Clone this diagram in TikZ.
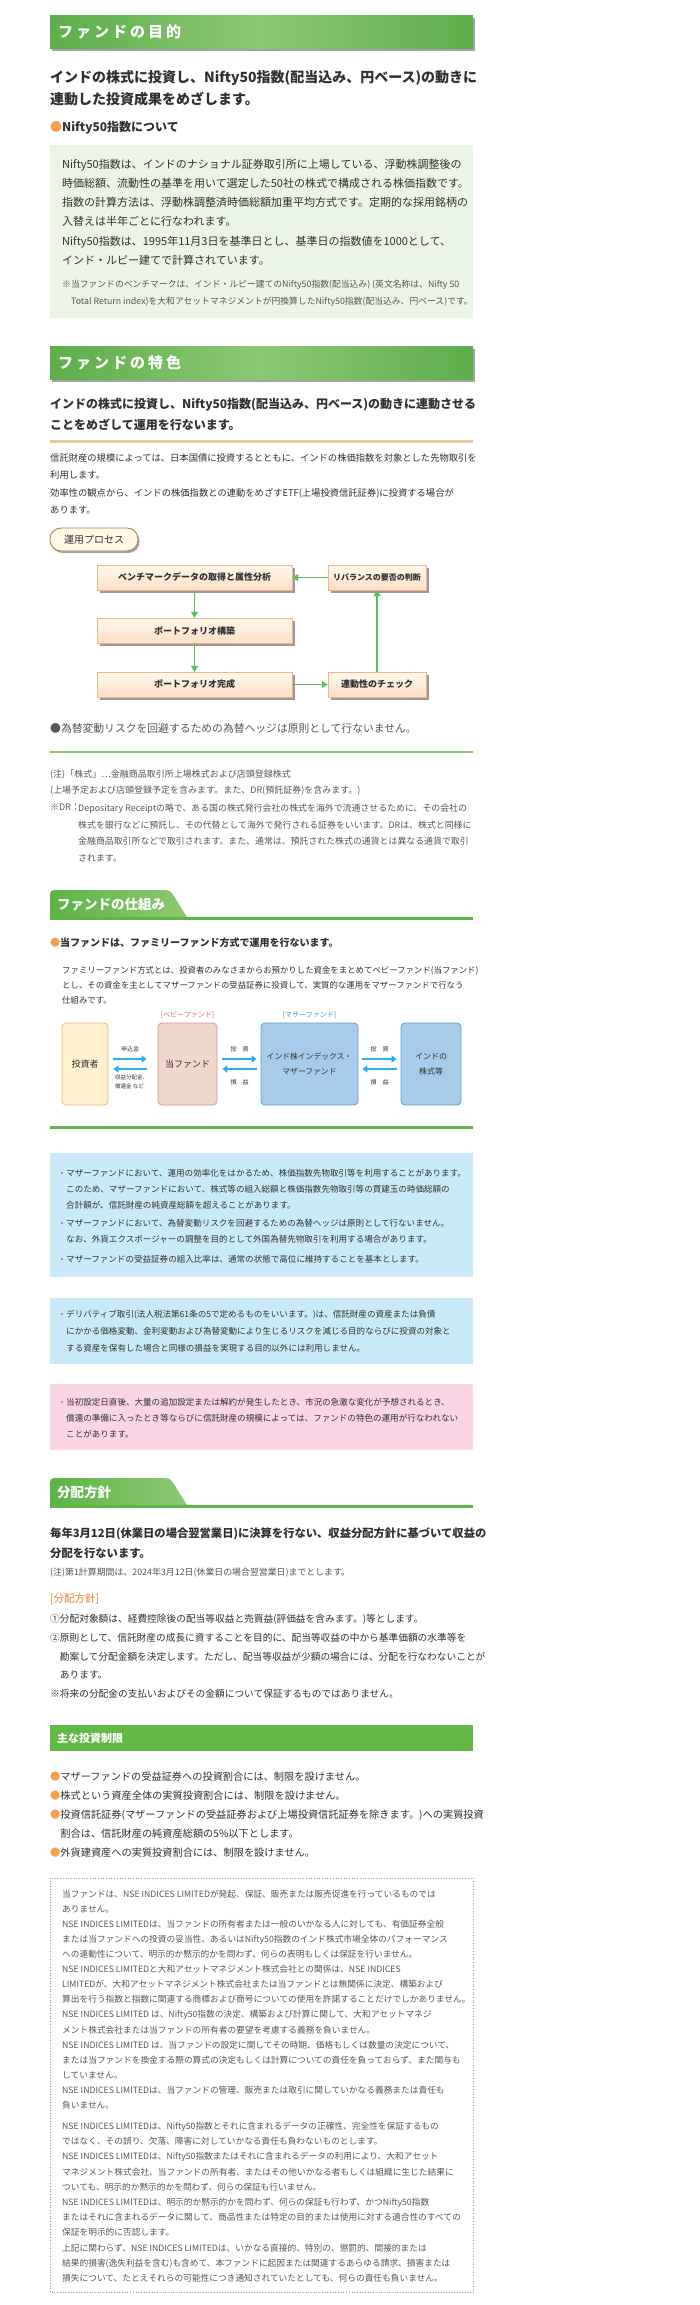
\documentclass[tikz,border=0pt]{standalone}
\usepackage{fontspec}
\setmainfont{Noto Sans CJK JP}
\newfontfamily\spacedjp{Noto Sans CJK JP}[LetterSpace=20]
\usetikzlibrary{arrows.meta,shadows}

\definecolor{bargreen}{HTML}{5DAE4B}
\definecolor{barlight}{HTML}{8DC873}
\definecolor{boxgreen}{HTML}{EBF5E5}
\definecolor{inkdark}{HTML}{303030}
\definecolor{inkgrey}{HTML}{555555}
\definecolor{tanline}{HTML}{E7C89B}
\definecolor{pillline}{HTML}{A2844F}
\definecolor{pillfill}{HTML}{FFF8E4}
\definecolor{flowline}{HTML}{F5B48C}
\definecolor{flowtop}{HTML}{FFF8EE}
\definecolor{flowbot}{HTML}{FCDFC2}
\definecolor{flowarrow}{HTML}{5CBD5C}
\definecolor{dotorange}{HTML}{F6A04B}
\definecolor{tabgreen}{HTML}{5DB447}
\definecolor{skyarrow}{HTML}{22B3EA}
\definecolor{invfill}{HTML}{FFF1CF}
\definecolor{invline}{HTML}{F5B56E}
\definecolor{babyfill}{HTML}{F1D6CC}
\definecolor{babyline}{HTML}{D9978A}
\definecolor{babytext}{HTML}{D4735E}
\definecolor{motherfill}{HTML}{A8CBEB}
\definecolor{motherline}{HTML}{5DA0D9}
\definecolor{mothertext}{HTML}{3C9BDA}
\definecolor{paleblue}{HTML}{CBEAF9}
\definecolor{palepink}{HTML}{FAD5E5}
\definecolor{pinkdot}{HTML}{E4607F}
\definecolor{bluedot}{HTML}{2F9FDC}
\definecolor{policyorange}{HTML}{EE7B32}
\definecolor{limitgreen}{HTML}{63B946}
\definecolor{dotline}{HTML}{9A9A9A}

\tikzset{
  every node/.style={inner sep=0pt},
  bodytext/.style={anchor=north west, align=left, text=inkdark},
  oneline/.style={anchor=west, text=inkdark},
  barshade/.style={left color=bargreen, right color=bargreen, middle color=barlight,
    drop shadow={shadow xshift=2pt, shadow yshift=-2.5pt, fill=black!45, opacity=0.8}},
  bartitle/.style={anchor=west, text=white, font=\spacedjp\bfseries\fontsize{15}{15}\selectfont},
  tabshade/.style={left color=tabgreen, right color=barlight},
  tabtitle/.style={anchor=west, text=white, font=\bfseries\fontsize{13.5}{13.5}\selectfont},
  flowbox/.style={draw=flowline, top color=flowtop, bottom color=flowbot, minimum height=25pt,
    text=inkdark, font=\bfseries\fontsize{9}{9}\selectfont,
    drop shadow={shadow xshift=3pt, shadow yshift=-3pt, fill=black!40, opacity=1}},
  flowto/.style={draw=flowarrow, line width=1.2pt, -{Triangle[length=6pt,width=7pt]}, fill=flowarrow},
  fundbox/.style={rounded corners=4pt, line width=0.8pt, minimum height=82pt, align=center, text=inkdark},
  moneyto/.style={draw=skyarrow, line width=1.8pt, -{Triangle[length=5pt,width=7pt]}},
  moneylbl/.style={text=inkdark, font=\fontsize{6}{6}\selectfont},
  smallbody/.style={bodytext, font=\fontsize{8.55}{15.8}\selectfont}
}

\begin{document}
\begin{tikzpicture}[x=1pt,y=-1pt]
\useasboundingbox (0,0) rectangle (700,2305);
\fill[white] (0,0) rectangle (700,2305);

\path[barshade] (50,15) rectangle (473,48);
\node[bartitle] (goaltitle) at (58,31.5) {ファンドの目的};
\node[bodytext, font=\bfseries\fontsize{14}{22}\selectfont] (goalhead) at (50,70.4) {インドの株式に投資し、Nifty50指数(配当込み、円ベース)の動きに\\連動した投資成果をめざします。};
\node[oneline, font=\bfseries\fontsize{12}{12}\selectfont] (niftyhead) at (50,128) {{\color{dotorange}●}Nifty50指数について};
\fill[boxgreen] (50,145) rectangle (473,318);
\node[bodytext, font=\fontsize{11}{19.2}\selectfont] (niftybody) at (62,158.8) {Nifty50指数は、インドのナショナル証券取引所に上場している、浮動株調整後の\\時価総額、流動性の基準を用いて選定した50社の株式で構成される株価指数です。\\指数の計算方法は、浮動株調整済時価総額加重平均方式です。定期的な採用銘柄の\\入替えは半年ごとに行なわれます。\\Nifty50指数は、1995年11月3日を基準日とし、基準日の指数値を1000として、\\インド・ルピー建てで計算されています。};
\node[bodytext, text=inkgrey, font=\fontsize{8.8}{17}\selectfont] (niftynote) at (62,279.9) {※当ファンドのベンチマークは、インド・ルピー建てのNifty50指数(配当込み) (英文名称は、Nifty 50\\\hspace*{9pt}Total Return index)を大和アセットマネジメントが円換算したNifty50指数(配当込み、円ベース)です。};

\path[barshade] (50,346) rectangle (473,379);
\node[bartitle] (featuretitle) at (58,362.5) {ファンドの特色};
\node[bodytext, font=\bfseries\fontsize{12}{21}\selectfont] (featurehead) at (50,398.4) {インドの株式に投資し、Nifty50指数(配当込み、円ベース)の動きに連動させる\\ことをめざして運用を行ないます。};
\draw[tanline, line width=3pt] (50,441) -- (473,441);
\node[bodytext, font=\fontsize{9.3}{17.3}\selectfont] (featurebody) at (50,453.6) {信託財産の規模によっては、日本国債に投資するとともに、インドの株価指数を対象とした先物取引を\\利用します。\\効率性の観点から、インドの株価指数との連動をめざすETF(上場投資信託証券)に投資する場合が\\あります。};
\node[draw=pillline, line width=0.9pt, fill=pillfill, rounded corners=11pt, minimum width=88pt, minimum height=23pt, text=inkdark, font=\fontsize{10}{10}\selectfont, drop shadow={shadow xshift=1.5pt, shadow yshift=-2pt, fill=black!35, opacity=1}] (proc) at (94,539.5) {運用プロセス};

\node[flowbox, minimum width=195pt] (bench) at (194.5,577.5) {ベンチマークデータの取得と属性分析};
\node[flowbox, minimum width=98pt, font=\bfseries\fontsize{8}{8}\selectfont] (rebal) at (377,577.5) {リバランスの要否の判断};
\node[flowbox, minimum width=195pt] (build) at (194.5,630.5) {ポートフォリオ構築};
\node[flowbox, minimum width=195pt] (done) at (194.5,684.5) {ポートフォリオ完成};
\node[flowbox, minimum width=98pt] (check) at (377,684.5) {連動性のチェック};
\draw[flowto] (bench) -- (build);
\draw[flowto] (build) -- (done);
\draw[flowto] (done) -- (check);
\draw[flowto] (check) -- (rebal);
\draw[flowto] (rebal) -- (bench);

\node[oneline, text=inkgrey, font=\fontsize{10.8}{10.8}\selectfont] (hedge) at (50,728) {●為替変動リスクを回避するための為替ヘッジは原則として行ないません。};
\draw[barlight, line width=1.5pt] (50,752) -- (473,752);
\node[bodytext, text=inkgrey, font=\fontsize{9}{16}\selectfont] (stocknote) at (50,769.8) {(注)「株式」…金融商品取引所上場株式および店頭登録株式\\(上場予定および店頭登録予定を含みます。また、DR(預託証券)を含みます。)};
\node[bodytext, text=inkgrey, font=\fontsize{9}{16.5}\selectfont] (drtag) at (50,803.8) {※DR：};
\node[bodytext, text=inkgrey, font=\fontsize{8.9}{16.5}\selectfont] (drnote) at (78,803.8) {Depositary Receiptの略で、ある国の株式発行会社の株式を海外で流通させるために、その会社の\\株式を銀行などに預託し、その代替として海外で発行される証券をいいます。DRは、株式と同様に\\金融商品取引所などで取引されます。また、通常は、預託された株式の通貨とは異なる通貨で取引\\されます。};

\path[tabshade] (50,917) [rounded corners=4pt] -- (50,890) -- (170,890) [sharp corners] -- (187,917) -- cycle;
\draw[tabgreen, line width=3pt] (50,918.5) -- (473,918.5);
\node[tabtitle] (schemetitle) at (57,904) {ファンドの仕組み};
\node[oneline, font=\bfseries\fontsize{10}{10}\selectfont] (schemehead) at (50,943) {{\color{dotorange}●}当ファンドは、ファミリーファンド方式で運用を行ないます。};
\node[bodytext, font=\fontsize{8.4}{15}\selectfont] (schemebody) at (62,966) {ファミリーファンド方式とは、投資者のみなさまからお預かりした資金をまとめてベビーファンド(当ファンド)\\とし、その資金を主としてマザーファンドの受益証券に投資して、実質的な運用をマザーファンドで行なう\\仕組みです。};

\node[text=babytext, font=\fontsize{7}{7}\selectfont] (babytag) at (187.5,1015) {[ベビーファンド]};
\node[text=mothertext, font=\fontsize{7}{7}\selectfont] (mothertag) at (309.5,1015) {[マザーファンド]};
\node[fundbox, draw=invline, fill=invfill, minimum width=46pt, font=\fontsize{9}{9}\selectfont] (inv) at (85,1064) {投資者};
\node[fundbox, draw=babyline, fill=babyfill, minimum width=59pt, font=\fontsize{9}{9}\selectfont] (baby) at (187.5,1064) {当ファンド};
\node[fundbox, draw=motherline, fill=motherfill, minimum width=97pt, font=\fontsize{7.8}{15}\selectfont] (mother) at (309.5,1064) {インド株インデックス・\\マザーファンド};
\node[fundbox, draw=motherline, fill=motherfill, minimum width=60pt, font=\fontsize{8}{15}\selectfont] (stock) at (431,1064) {インドの\\株式等};
\draw[moneyto] ([shift={(5,-5)}]inv.east) -- ([shift={(-11,-5)}]baby.west);
\draw[moneyto] ([shift={(-11,5)}]baby.west) -- ([shift={(5,5)}]inv.east);
\draw[moneyto] ([shift={(5,-5)}]baby.east) -- ([shift={(-4,-5)}]mother.west);
\draw[moneyto] ([shift={(-4,5)}]mother.west) -- ([shift={(5,5)}]baby.east);
\draw[moneyto] ([shift={(4,-5)}]mother.east) -- ([shift={(-4,-5)}]stock.west);
\draw[moneyto] ([shift={(-4,5)}]stock.west) -- ([shift={(4,5)}]mother.east);
\node[moneylbl] (paylbl) at (130,1049) {申込金};
\node[moneylbl, anchor=north west, align=left, font=\fontsize{5.5}{9}\selectfont] (backlbl) at (115,1074.4) {収益分配金、\\償還金 など};
\node[moneylbl] (investlbla) at (239.5,1049) {投　資};
\node[moneylbl] (gainlbla) at (239.5,1082) {損　益};
\node[moneylbl] (investlblb) at (379.5,1049) {投　資};
\node[moneylbl] (gainlblb) at (379.5,1082) {損　益};
\draw[tabgreen, line width=3pt] (50,1127) -- (473,1127);

\fill[paleblue] (50,1153) rectangle (473,1277);
\fill[bluedot] (62,1173) circle[radius=1.1pt];
\fill[bluedot] (62,1223) circle[radius=1.1pt];
\fill[bluedot] (62,1259) circle[radius=1.1pt];
\node[smallbody] (motherusea) at (66,1169) {マザーファンドにおいて、運用の効率化をはかるため、株価指数先物取引等を利用することがあります。\\このため、マザーファンドにおいて、株式等の組入総額と株価指数先物取引等の買建玉の時価総額の\\合計額が、信託財産の純資産総額を超えることがあります。};
\node[smallbody] (motheruseb) at (66,1219) {マザーファンドにおいて、為替変動リスクを回避するための為替ヘッジは原則として行ないません。\\なお、外貨エクスポージャーの調整を目的として外国為替先物取引を利用する場合があります。};
\node[smallbody] (motherusec) at (66,1255) {マザーファンドの受益証券の組入比率は、通常の状態で高位に維持することを基本とします。};

\fill[paleblue] (50,1298) rectangle (473,1364);
\fill[bluedot] (62,1314) circle[radius=1.1pt];
\node[smallbody, font=\fontsize{8.55}{17}\selectfont] (derivnote) at (66,1310) {デリバティブ取引(法人税法第61条の5で定めるものをいいます。)は、信託財産の資産または負債\\にかかる価格変動、金利変動および為替変動により生じるリスクを減じる目的ならびに投資の対象と\\する資産を保有した場合と同様の損益を実現する目的以外には利用しません。};

\fill[palepink] (50,1384) rectangle (473,1450);
\fill[pinkdot] (62,1402) circle[radius=1.1pt];
\node[smallbody, font=\fontsize{8.55}{16}\selectfont] (riskynote) at (66,1398) {当初設定日直後、大量の追加設定または解約が発生したとき、市況の急激な変化が予想されるとき、\\償還の準備に入ったとき等ならびに信託財産の規模によっては、ファンドの特色の運用が行なわれない\\ことがあります。};

\path[tabshade] (50,1505) [rounded corners=4pt] -- (50,1478) -- (170,1478) [sharp corners] -- (187,1505) -- cycle;
\draw[tabgreen, line width=3pt] (50,1506.5) -- (473,1506.5);
\node[tabtitle] (policytitle) at (57,1492) {分配方針};
\node[bodytext, font=\bfseries\fontsize{11.3}{20}\selectfont] (policyhead) at (50,1527.7) {毎年3月12日(休業日の場合翌営業日)に決算を行ない、収益分配方針に基づいて収益の\\分配を行ないます。};
\node[oneline, text=inkgrey, font=\fontsize{8.9}{8.9}\selectfont] (periodnote) at (50,1573) {(注)第1計算期間は、2024年3月12日(休業日の場合翌営業日)までとします。};
\node[oneline, text=policyorange, font=\fontsize{10.5}{10.5}\selectfont] (policytag) at (50,1599) {[分配方針]};
\node[bodytext, font=\fontsize{9.7}{18.75}\selectfont] (policybody) at (50,1614.2) {①分配対象額は、経費控除後の配当等収益と売買益(評価益を含みます。)等とします。\\②原則として、信託財産の成長に資することを目的に、配当等収益の中から基準価額の水準等を\\\hspace*{1em}勘案して分配金額を決定します。ただし、配当等収益が少額の場合には、分配を行なわないことが\\\hspace*{1em}あります。\\※将来の分配金の支払いおよびその金額について保証するものではありません。};

\fill[limitgreen] (50,1725) rectangle (473,1751);
\node[oneline, text=white, font=\bfseries\fontsize{11}{11}\selectfont] (limittitle) at (57,1738) {主な投資制限};
\node[bodytext, font=\fontsize{10.2}{19}\selectfont] (limitbody) at (50,1771.2) {{\color{dotorange}●}マザーファンドの受益証券への投資割合には、制限を設けません。\\{\color{dotorange}●}株式という資産全体の実質投資割合には、制限を設けません。\\{\color{dotorange}●}投資信託証券(マザーファンドの受益証券および上場投資信託証券を除きます。)への実質投資\\\hspace*{1em}割合は、信託財産の純資産総額の5\%以下とします。\\{\color{dotorange}●}外貨建資産への実質投資割合には、制限を設けません。};

\draw[dotline, dotted, line width=0.7pt] (50,1878) rectangle (473,2292);
\node[bodytext, text=inkgrey, font=\fontsize{8.7}{15.07}\selectfont] (nsenotea) at (62,1889.8) {当ファンドは、NSE INDICES LIMITEDが発起、保証、販売または販売促進を行っているものでは\\ありません。\\NSE INDICES LIMITEDは、当ファンドの所有者または一般のいかなる人に対しても、有価証券全般\\または当ファンドへの投資の妥当性、あるいはNifty50指数のインド株式市場全体のパフォーマンス\\への連動性について、明示的か黙示的かを問わず、何らの表明もしくは保証を行いません。\\NSE INDICES LIMITEDと大和アセットマネジメント株式会社との関係は、NSE INDICES\\LIMITEDが、大和アセットマネジメント株式会社または当ファンドとは無関係に決定、構築および\\算出を行う指数と指数に関連する商標および商号についての使用を許諾することだけでしかありません。\\NSE INDICES LIMITED は、Nifty50指数の決定、構築および計算に関して、大和アセットマネジ\\メント株式会社または当ファンドの所有者の要望を考慮する義務を負いません。\\NSE INDICES LIMITED は、当ファンドの設定に関してその時期、価格もしくは数量の決定について、\\または当ファンドを換金する際の算式の決定もしくは計算についての責任を負っておらず、また関与も\\していません。\\NSE INDICES LIMITEDは、当ファンドの管理、販売または取引に関していかなる義務または責任も\\負いません。};
\node[bodytext, text=inkgrey, font=\fontsize{8.7}{15.2}\selectfont] (nsenoteb) at (62,2121.8) {NSE INDICES LIMITEDは、Nifty50指数とそれに含まれるデータの正確性、完全性を保証するもの\\ではなく、その誤り、欠落、障害に対していかなる責任も負わないものとします。\\NSE INDICES LIMITEDは、Nifty50指数またはそれに含まれるデータの利用により、大和アセット\\マネジメント株式会社、当ファンドの所有者、またはその他いかなる者もしくは組織に生じた結果に\\ついても、明示的か黙示的かを問わず、何らの保証も行いません。\\NSE INDICES LIMITEDは、明示的か黙示的かを問わず、何らの保証も行わず、かつNifty50指数\\またはそれに含まれるデータに関して、商品性または特定の目的または使用に対する適合性のすべての\\保証を明示的に否認します。\\上記に関わらず、NSE INDICES LIMITEDは、いかなる直接的、特別の、懲罰的、間接的または\\結果的損害(逸失利益を含む)も含めて、本ファンドに起因または関連するあらゆる請求、損害または\\損失について、たとえそれらの可能性につき通知されていたとしても、何らの責任も負いません。};
\end{tikzpicture}
\end{document}
